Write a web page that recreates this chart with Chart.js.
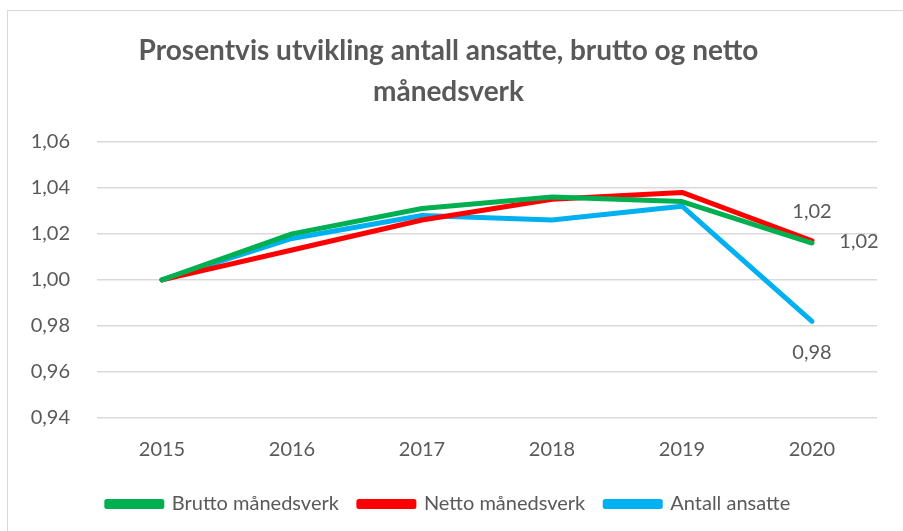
<!DOCTYPE html>
<html>
<head>
<meta charset="utf-8">
<script src="https://cdn.jsdelivr.net/npm/chart.js@4.4.0/dist/chart.umd.min.js"></script>
<style>
  html, body { margin: 0; padding: 0; background: #fff; }
  #frame { position: absolute; left: 7px; top: 10px; width: 910px; height: 540px; border: 1.5px solid #d9d9d9; box-sizing: border-box; }
  #wrap { position: absolute; left: 0; top: 0; width: 903px; height: 531px; }
</style>
</head>
<body>
<div id="frame"></div>
<div id="wrap"><canvas id="chart" width="903" height="531"></canvas></div>
<script>
// data
const years = ['2015', '2016', '2017', '2018', '2019', '2020'];
const brutto = [1.000, 1.020, 1.031, 1.036, 1.034, 1.016];
const netto = [1.000, 1.013, 1.026, 1.035, 1.038, 1.017];
const ansatte = [1.000, 1.018, 1.028, 1.026, 1.032, 0.982];
const yTicks = [0.94, 0.96, 0.98, 1.00, 1.02, 1.04, 1.06];

const textColor = '#595959';
const fontFam = "'Lato', sans-serif";

function fmt(v) {
  return v.toFixed(2).replace('.', ',');
}

// labels on the last point, like the excel chart
const endLabels = {
  id: 'endLabels',
  afterDatasetsDraw(chart) {
    const ctx = chart.ctx;
    const offsets = [[47, -2], [0, -29], [0, 31]];
    ctx.save();
    ctx.font = '20px ' + fontFam;
    ctx.fillStyle = textColor;
    ctx.textAlign = 'center';
    ctx.textBaseline = 'middle';
    chart.data.datasets.forEach((ds, i) => {
      const meta = chart.getDatasetMeta(i);
      const last = meta.data[meta.data.length - 1];
      ctx.fillText(fmt(ds.data[ds.data.length - 1]), last.x + offsets[i][0], last.y + offsets[i][1]);
    });
    ctx.restore();
  }
};

new Chart(document.getElementById('chart'), {
  type: 'line',
  data: {
    labels: years,
    datasets: [
      { label: 'Brutto månedsverk', data: brutto, borderColor: '#00B050', backgroundColor: '#00B050' },
      { label: 'Netto månedsverk', data: netto, borderColor: '#FF0000', backgroundColor: '#FF0000' },
      { label: 'Antall ansatte', data: ansatte, borderColor: '#00B0F0', backgroundColor: '#00B0F0' }
    ]
  },
  options: {
    responsive: false,
    animation: false,
    devicePixelRatio: 1,
    elements: {
      line: { borderWidth: 5, tension: 0, borderCapStyle: 'round', borderJoinStyle: 'round' },
      point: { radius: 0, hoverRadius: 0 }
    },
    layout: { padding: { left: 20, right: 26, top: 31, bottom: 7 } },
    scales: {
      x: {
        offset: true,
        grid: { display: false },
        border: { display: false },
        ticks: { color: textColor, font: { family: fontFam, size: 20 }, padding: 12 }
      },
      y: {
        min: 0.94,
        max: 1.06,
        afterBuildTicks(axis) { axis.ticks = yTicks.map(v => ({ value: v })); },
        afterFit(axis) { axis.width = 77; },
        grid: { color: '#d9d9d9', lineWidth: 1.5, drawTicks: false },
        border: { display: false },
        ticks: { color: textColor, font: { family: fontFam, size: 20 }, padding: 27, callback: v => fmt(v) }
      }
    },
    plugins: {
      tooltip: { enabled: false },
      title: {
        display: true,
        text: ['Prosentvis utvikling antall ansatte, brutto og netto', 'månedsverk'],
        color: textColor,
        font: { family: fontFam, size: 28, weight: 'bold', lineHeight: 1.46 },
        padding: { top: 0, bottom: 29 }
      },
      legend: {
        position: 'bottom',
        labels: {
          color: textColor,
          font: { family: fontFam, size: 20 },
          boxWidth: 55,
          boxHeight: 5,
          padding: 20
        }
      }
    }
  },
  plugins: [endLabels]
});
</script>
</body>
</html>
